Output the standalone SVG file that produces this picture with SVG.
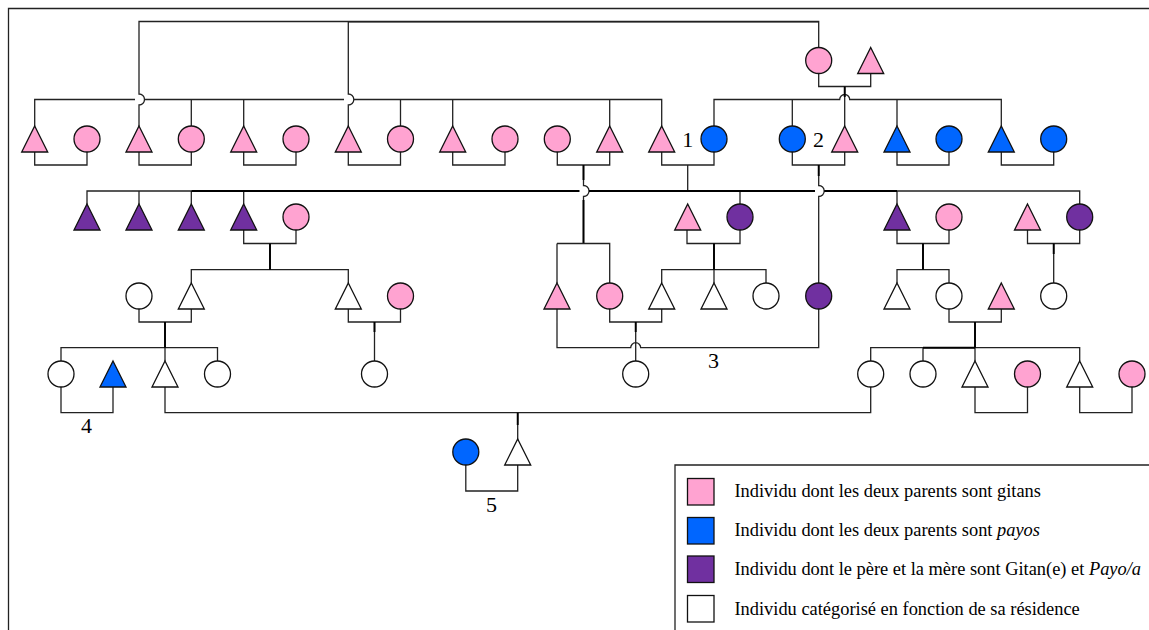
<svg xmlns="http://www.w3.org/2000/svg" width="1149" height="630" viewBox="0 0 1149 630">
<style>
.l{fill:none;stroke:#222;stroke-width:1.3}
.b{fill:none;stroke:#000;stroke-width:1.9}
.n{stroke:#111;stroke-width:1.3}
.p{fill:#ffa3d1}.u{fill:#0066ff}.v{fill:#7030a0}.w{fill:#fff}
text{font-family:"Liberation Serif","Times New Roman",serif;fill:#000}
.d{font-size:22px;text-anchor:middle}
.t{font-size:18.4px}
</style>
<rect x="0" y="0" width="1149" height="630" fill="#fff"/>
<path class="l" d="M8.500 630V8.500H1149"/>
<g id="connectors">
<path class="l" d="M818.700 47.500V21.500H139V94c3 0 5.500 2.300 5.500 5.500s-2.500 5.500-5.500 5.500V126.500M348.300 21.500V94c3 0 5.500 2.300 5.500 5.500s-2.500 5.500-5.500 5.500V126.500"/>
<path class="l" d="M348.300 21.800H818.700"/>
<path class="l" d="M34.700 126.500V99.500H135M144.500 99.500H344M353.800 99.500H661.700V126.500M191.300 99.500V126M243.700 99.500V126.500M400.500 99.500V126M452.700 99.500V126.500M609.700 99.500V126.500"/>
<path class="l" d="M818.700 73.500V86.500H870.700V73M844.700 86.500V126.500M714 126V99.500H839.700a5 5 0 0 1 10 0H1001.300V126.500M792.300 99.500V126M897 99.500V126.500"/>
<path class="b" d="M844.700 86.500V97"/>
<path class="l" d="M34.700 152V165H87V152M139 152V165H191.300V152M243.700 152V165H296V152M348.300 152V165H400.500V152M452.700 152V165H505V152M557.300 152V165H609.700V152M661.700 152V165H714V152M792.300 152V165H844.700V152M897 152V165H949V152M1001.300 152V165H1053.700V152"/>
<path class="l" d="M583.500 165V185.500c3 0 5.500 2.300 5.500 5.500s-2.500 5.500-5.500 5.500V243.500M687.700 165V191M818.700 165V185.500c3 0 5.500 2.300 5.500 5.500s-2.500 5.500-5.500 5.500V283"/>
<path class="b" d="M583.500 165V180M583.500 200V243M818.700 165V176"/>
<path class="l" d="M87 204.500V191H191.300M139 191V204.500M191.300 191V204.500M243.700 191V204.500M740 191V204M897 191H1079.700V204M897 191V204.500"/>
<path class="b" d="M191.300 191H579.500M589 191H815M824.200 191H897"/>
<path class="l" d="M243.700 230V243.500H296V230M270 243.500V269.700M191.300 283V269.700H348.300V283"/>
<path class="b" d="M270 243.500V269.700"/>
<path class="l" d="M139 309V322H191.300V309M165 322V361M61 361V347.700H217.500V361"/>
<path class="b" d="M165 322V347.700"/>
<path class="l" d="M348.300 309V322H400.500V309M374.500 322V361"/>
<path class="b" d="M374.500 322V332"/>
<path class="l" d="M557 243.500H609.700V283M557 283V243.500"/>
<path class="l" d="M687 230V243.500H740V230M714 243.500V283M661.700 283V269.700H766V283"/>
<path class="b" d="M714 243.500V269.700"/>
<path class="l" d="M609.700 309V322H661.700V309M635.700 322V361M557 309V347.700H630.700a5 5 0 0 1 10 0H818.700V309"/>
<path class="b" d="M635.700 322V332"/>
<path class="l" d="M897 283V269.700H949V283M897 230V243.500H949V230M923 243.500V269.700"/>
<path class="b" d="M923 243.500V269.700"/>
<path class="l" d="M1027.500 230V243.500H1079.700V230M1053.700 243.500V283"/>
<path class="b" d="M1053.700 243.500V254"/>
<path class="l" d="M949 309V322H1001.300V309M975 322V361M870.700 361V347.700H1079.700V361M923 347.700V361"/>
<path class="b" d="M975 322V347.700M923 347.700H975"/>
<path class="l" d="M61 387V412.700H113V387M165 387V412.700H870.700V387M975 387V412.700H1027.500V387M1079.700 387V412.700H1132V387"/>
<path class="l" d="M517.700 412.700V440M465.800 465V491H517.700V465"/>
<path class="b" d="M517.700 412.700V425"/>
</g>
<g id="n01" transform="translate(818.700,60.500)"><circle class="n p" r="13"/></g>
<g id="n02" transform="translate(870.700,60.500)"><polygon class="n p" points="0,-13 13,13 -13,13"/></g>
<g id="n03" transform="translate(34.700,139)"><polygon class="n p" points="0,-13 13,13 -13,13"/></g>
<g id="n04" transform="translate(87,139)"><circle class="n p" r="13"/></g>
<g id="n05" transform="translate(139,139)"><polygon class="n p" points="0,-13 13,13 -13,13"/></g>
<g id="n06" transform="translate(191.300,139)"><circle class="n p" r="13"/></g>
<g id="n07" transform="translate(243.700,139)"><polygon class="n p" points="0,-13 13,13 -13,13"/></g>
<g id="n08" transform="translate(296,139)"><circle class="n p" r="13"/></g>
<g id="n09" transform="translate(348.300,139)"><polygon class="n p" points="0,-13 13,13 -13,13"/></g>
<g id="n10" transform="translate(400.500,139)"><circle class="n p" r="13"/></g>
<g id="n11" transform="translate(452.700,139)"><polygon class="n p" points="0,-13 13,13 -13,13"/></g>
<g id="n12" transform="translate(505,139)"><circle class="n p" r="13"/></g>
<g id="n13" transform="translate(557.300,139)"><circle class="n p" r="13"/></g>
<g id="n14" transform="translate(609.700,139)"><polygon class="n p" points="0,-13 13,13 -13,13"/></g>
<g id="n15" transform="translate(661.700,139)"><polygon class="n p" points="0,-13 13,13 -13,13"/></g>
<g id="n16" transform="translate(714,139)"><circle class="n u" r="13"/></g>
<g id="n17" transform="translate(792.300,139)"><circle class="n u" r="13"/></g>
<g id="n18" transform="translate(844.700,139)"><polygon class="n p" points="0,-13 13,13 -13,13"/></g>
<g id="n19" transform="translate(897,139)"><polygon class="n u" points="0,-13 13,13 -13,13"/></g>
<g id="n20" transform="translate(949,139)"><circle class="n u" r="13"/></g>
<g id="n21" transform="translate(1001.300,139)"><polygon class="n u" points="0,-13 13,13 -13,13"/></g>
<g id="n22" transform="translate(1053.700,139)"><circle class="n u" r="13"/></g>
<g id="n23" transform="translate(87,217)"><polygon class="n v" points="0,-13 13,13 -13,13"/></g>
<g id="n24" transform="translate(139,217)"><polygon class="n v" points="0,-13 13,13 -13,13"/></g>
<g id="n25" transform="translate(191.300,217)"><polygon class="n v" points="0,-13 13,13 -13,13"/></g>
<g id="n26" transform="translate(243.700,217)"><polygon class="n v" points="0,-13 13,13 -13,13"/></g>
<g id="n27" transform="translate(296,217)"><circle class="n p" r="13"/></g>
<g id="n28" transform="translate(687.700,217)"><polygon class="n p" points="0,-13 13,13 -13,13"/></g>
<g id="n29" transform="translate(740,217)"><circle class="n v" r="13"/></g>
<g id="n30" transform="translate(897,217)"><polygon class="n v" points="0,-13 13,13 -13,13"/></g>
<g id="n31" transform="translate(949,217)"><circle class="n p" r="13"/></g>
<g id="n32" transform="translate(1027.500,217)"><polygon class="n p" points="0,-13 13,13 -13,13"/></g>
<g id="n33" transform="translate(1079.700,217)"><circle class="n v" r="13"/></g>
<g id="n34" transform="translate(139,296)"><circle class="n w" r="13"/></g>
<g id="n35" transform="translate(191.300,296)"><polygon class="n w" points="0,-13 13,13 -13,13"/></g>
<g id="n36" transform="translate(348.300,296)"><polygon class="n w" points="0,-13 13,13 -13,13"/></g>
<g id="n37" transform="translate(400.500,296)"><circle class="n p" r="13"/></g>
<g id="n38" transform="translate(557,296)"><polygon class="n p" points="0,-13 13,13 -13,13"/></g>
<g id="n39" transform="translate(609.700,296)"><circle class="n p" r="13"/></g>
<g id="n40" transform="translate(661.700,296)"><polygon class="n w" points="0,-13 13,13 -13,13"/></g>
<g id="n41" transform="translate(714,296)"><polygon class="n w" points="0,-13 13,13 -13,13"/></g>
<g id="n42" transform="translate(766,296)"><circle class="n w" r="13"/></g>
<g id="n43" transform="translate(818.700,296)"><circle class="n v" r="13"/></g>
<g id="n44" transform="translate(897,296)"><polygon class="n w" points="0,-13 13,13 -13,13"/></g>
<g id="n45" transform="translate(949,296)"><circle class="n w" r="13"/></g>
<g id="n46" transform="translate(1001.300,296)"><polygon class="n p" points="0,-13 13,13 -13,13"/></g>
<g id="n47" transform="translate(1053.700,296)"><circle class="n w" r="13"/></g>
<g id="n48" transform="translate(61,374)"><circle class="n w" r="13"/></g>
<g id="n49" transform="translate(113,374)"><polygon class="n u" points="0,-13 13,13 -13,13"/></g>
<g id="n50" transform="translate(165,374)"><polygon class="n w" points="0,-13 13,13 -13,13"/></g>
<g id="n51" transform="translate(217.500,374)"><circle class="n w" r="13"/></g>
<g id="n52" transform="translate(374.500,374)"><circle class="n w" r="13"/></g>
<g id="n53" transform="translate(635.700,374)"><circle class="n w" r="13"/></g>
<g id="n54" transform="translate(870.700,374)"><circle class="n w" r="13"/></g>
<g id="n55" transform="translate(923,374)"><circle class="n w" r="13"/></g>
<g id="n56" transform="translate(975,374)"><polygon class="n w" points="0,-13 13,13 -13,13"/></g>
<g id="n57" transform="translate(1027.500,374)"><circle class="n p" r="13"/></g>
<g id="n58" transform="translate(1079.700,374)"><polygon class="n w" points="0,-13 13,13 -13,13"/></g>
<g id="n59" transform="translate(1132,374)"><circle class="n p" r="13"/></g>
<g id="n60" transform="translate(465.800,452)"><circle class="n u" r="13"/></g>
<g id="n61" transform="translate(517.700,452)"><polygon class="n w" points="0,-13 13,13 -13,13"/></g>
<g id="labels">
<text class="d" x="687.700" y="146.500">1</text>
<text class="d" x="818.500" y="146.500">2</text>
<text class="d" x="713.500" y="368">3</text>
<text class="d" x="86.500" y="433">4</text>
<text class="d" x="491.500" y="511.500">5</text>
</g>
<g id="legend">
<path class="l" d="M675 630V465H1149"/>
<rect class="n p" x="687.500" y="478.500" width="26.500" height="26.500"/>
<rect class="n u" x="687.500" y="517.500" width="26.500" height="26.500"/>
<rect class="n v" x="687.500" y="556" width="26.500" height="26.500"/>
<rect class="n w" x="687.500" y="595.500" width="26.500" height="26.500"/>
<text class="t" x="734.500" y="497">Individu dont les deux parents sont gitans</text>
<text class="t" x="734.500" y="536">Individu dont les deux parents sont <tspan font-style="italic">payos</tspan></text>
<text class="t" x="734.500" y="575">Individu dont le père et la mère sont Gitan(e) et <tspan font-style="italic">Payo/a</tspan></text>
<text class="t" x="734.500" y="615">Individu catégorisé en fonction de sa résidence</text>
</g>
</svg>
